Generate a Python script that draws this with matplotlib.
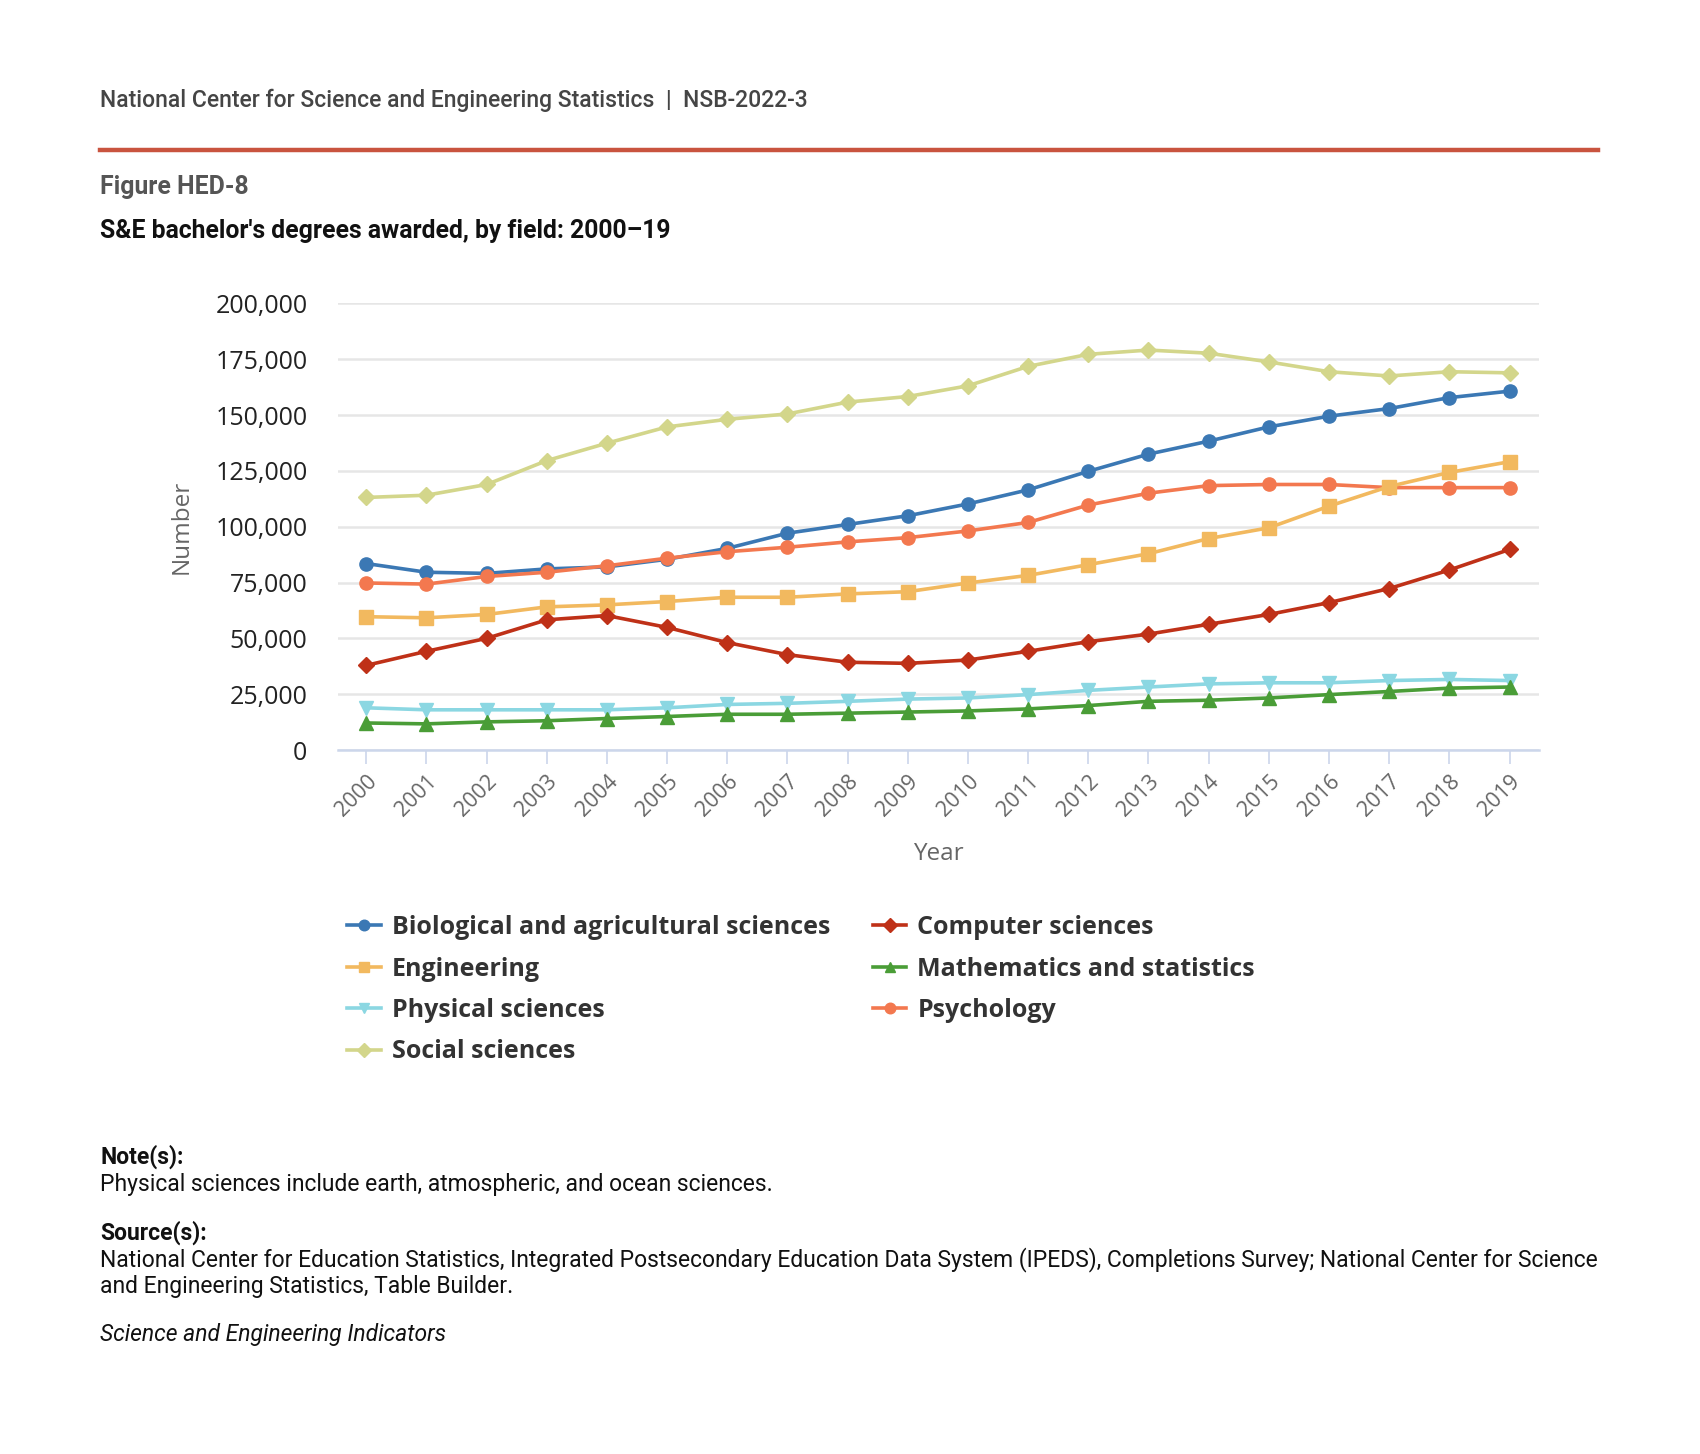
import matplotlib
matplotlib.use("Agg")
import matplotlib.pyplot as plt
from matplotlib.ticker import FuncFormatter

years = list(range(2000, 2020))

bio = [83500, 79600, 79100, 81100, 82000, 85400, 90300, 97100, 101000, 104900,
       110200, 116500, 124800, 132500, 138300, 144700, 149500, 152900, 157800, 160700]
computer = [37900, 44200, 50000, 58300, 60200, 54900, 48100, 42700, 39300, 38800,
            40300, 44200, 48500, 51900, 56300, 60700, 66000, 72300, 80600, 89800]
engineering = [59700, 59200, 60700, 64100, 65000, 66500, 68400, 68400, 69900, 70900,
               74800, 78200, 83000, 87900, 94700, 99500, 109200, 118000, 124300, 129100]
math_stats = [12100, 11700, 12600, 13100, 14100, 15000, 16000, 16000, 16500, 17000,
              17500, 18400, 19900, 21800, 22300, 23300, 24800, 26200, 27700, 28200]
physical = [18900, 18000, 18000, 18000, 18000, 18900, 20400, 20900, 21800, 22800,
            23300, 24800, 26700, 28200, 29600, 30100, 30100, 31100, 31600, 31100]
psychology = [74800, 74300, 77700, 79600, 82500, 85900, 88800, 90800, 93200, 95100,
              98100, 101900, 109700, 115000, 118400, 118900, 118900, 117500, 117500, 117500]
social = [113100, 114100, 118900, 129600, 137400, 144700, 148100, 150500, 155800, 158300,
          163100, 171800, 177200, 179100, 177700, 173800, 169400, 167500, 169400, 168900]

series = [
    ("Biological and agricultural sciences", bio, "#3b78b4", "o"),
    ("Engineering", engineering, "#f2b95f", "s"),
    ("Physical sciences", physical, "#8bd7e2", "v"),
    ("Social sciences", social, "#d3d68b", "D"),
    ("Computer sciences", computer, "#bf3118", "D"),
    ("Mathematics and statistics", math_stats, "#4a9d37", "^"),
    ("Psychology", psychology, "#f3784f", "o"),
]
draw_order = [3, 0, 6, 1, 4, 2, 5]

W, H = 1700, 1454
fig = plt.figure(figsize=(17, 14.54), dpi=100)

def fx(px):
    return px / W

def fy(py):
    return 1 - py / H

# header
fig.text(fx(100), fy(100), "National Center for Science and Engineering Statistics  |  NSB-2022-3",
         family="Roboto", weight="medium", fontsize=16.5, color="#454545", va="center")
fig.add_artist(plt.Line2D([fx(100), fx(1598)], [fy(149.5), fy(149.5)],
                          color="#c9543f", lw=3.2))
fig.text(fx(100), fy(187), "Figure HED-8", family="Roboto", weight="bold",
         fontsize=17.8, color="#555555", va="center")
fig.text(fx(100), fy(231), "S&E bachelor's degrees awarded, by field: 2000\u201319",
         family="Roboto", weight="bold", fontsize=17.8, color="#111111", va="center")

ax = fig.add_axes([fx(338), fy(750), (1539 - 338) / W, (750 - 303.4) / H])
handles = {}
for i in draw_order:
    name, vals, col, mk = series[i]
    ms = 8.5 if mk == "D" else 9.5
    ln, = ax.plot(years, vals, color=col, lw=2.6, marker=mk, ms=ms,
                  label=name, clip_on=False, zorder=3)
    handles[i] = ln

ax.set_xlim(1999.53, 2019.49)
ax.set_ylim(0, 200000)
ax.set_yticks(range(0, 200001, 25000))
ax.yaxis.set_major_formatter(FuncFormatter(lambda v, p: f"{int(v):,}"))
ax.set_xticks(years)
ax.set_xticklabels([str(y) for y in years], rotation=45, ha="right", rotation_mode="anchor",
                   family="Open Sans", fontsize=15.5, color="#666666")
for lab in ax.get_yticklabels():
    lab.set_family("Open Sans")
    lab.set_fontsize(18)
    lab.set_color("#222222")

ax.grid(axis="y", color="#e6e6e6", lw=1.8)
ax.set_axisbelow(True)
for s in ("top", "right", "left"):
    ax.spines[s].set_visible(False)
ax.spines["bottom"].set_color("#ccd6eb")
ax.spines["bottom"].set_linewidth(1.8)
ax.spines["bottom"].set_zorder(2)
ax.tick_params(axis="y", length=0, pad=22)
ax.tick_params(axis="x", length=10, width=1.2, color="#ccd6eb", pad=5)

ax.set_ylabel("Number", family="Open Sans", fontsize=17.5, color="#666666")
ax.set_xlabel("Year", family="Open Sans", fontsize=17.5, color="#666666")
ax.yaxis.set_label_coords((182 - 338) / 1201, 0.5)
ax.xaxis.set_label_coords(0.5, (750 - 854) / 446.6)
ax.xaxis.label.set_va("center")
ax.yaxis.label.set_va("center")

leg = fig.legend([handles[i] for i in range(7)], [series[i][0] for i in range(7)],
                 ncol=2, loc="upper left", bbox_to_anchor=(fx(347), fy(915)),
                 frameon=False, prop={"family": "Open Sans", "weight": "bold", "size": 18},
                 handlelength=1.35, handletextpad=0.44, columnspacing=1.7, labelspacing=0.66,
                 markerscale=0.8, borderpad=0, borderaxespad=0)
for t in leg.get_texts():
    t.set_color("#333333")

# notes
note_kw = dict(family="Roboto", fontsize=16.5, color="#111111", va="center")
fig.text(fx(100), fy(1157), "Note(s):", weight="bold", **note_kw)
fig.text(fx(100), fy(1184), "Physical sciences include earth, atmospheric, and ocean sciences.", **note_kw)
fig.text(fx(100), fy(1233), "Source(s):", weight="bold", **note_kw)
fig.text(fx(100), fy(1260),
         "National Center for Education Statistics, Integrated Postsecondary Education Data System (IPEDS), "
         "Completions Survey; National Center for Science", **note_kw)
fig.text(fx(100), fy(1286), "and Engineering Statistics, Table Builder.", **note_kw)
fig.text(fx(100), fy(1335), "Science and Engineering Indicators", style="italic", **note_kw)

fig.savefig("out.png", dpi=100, facecolor="white")
